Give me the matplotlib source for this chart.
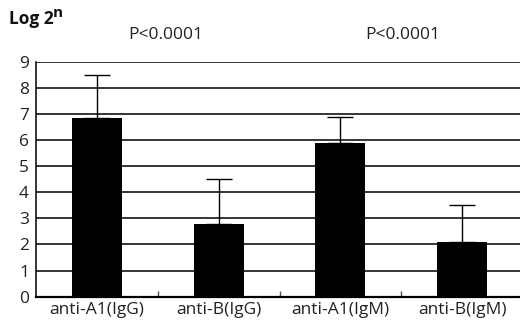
import numpy as np
import matplotlib.pyplot as plt

plt.rcParams['font.family'] = ['Open Sans', 'DejaVu Sans']

categories = ['anti-A1(IgG)', 'anti-B(IgG)', 'anti-A1(IgM)', 'anti-B(IgM)']
means = [6.83, 2.79, 5.88, 2.11]
upper_err = [1.67, 1.73, 1.02, 1.40]
p_labels = ['P<0.0001', 'P<0.0001']
y_ticks = list(range(0, 10))

fig = plt.figure(figsize=(5.2, 3.25), dpi=100)
ax = fig.add_axes([36 / 520, 1 - 296.7 / 325, 487 / 520, 235 / 325])

x = np.arange(len(categories))
zeros = [0] * len(upper_err)
ax.bar(x, means, width=0.41, color='black', zorder=3)
ax.errorbar(x, means, yerr=[zeros, upper_err], fmt='none', ecolor='black',
            elinewidth=1, capsize=9.5, capthick=1, zorder=2)

# horizontal grid lines
for yv in y_ticks[1:]:
    ax.axhline(yv, color='black', lw=1.1, zorder=1)

ax.set_xlim(-0.5, 3.5)
ax.set_ylim(0, 9)
ax.set_yticks(y_ticks)
ax.set_yticklabels([str(v) for v in y_ticks], fontsize=12.5, color='#222222')
ax.tick_params(axis='y', length=0, pad=5)

ax.set_xticks(x)
ax.set_xticklabels(categories, fontsize=12.5, color='#222222')
ax.tick_params(axis='x', length=0, pad=4)
ax.set_xticks([0.5, 1.5, 2.5], minor=True)
ax.tick_params(axis='x', which='minor', direction='in', length=4, width=1, color='#555555')

ax.spines['top'].set_visible(False)
ax.spines['right'].set_visible(False)
ax.spines['left'].set_linewidth(1.1)
ax.spines['bottom'].set_linewidth(1.6)

fig.text(9 / 520, 1 - 19 / 325, 'Log 2', fontsize=12.5, fontweight='bold',
         va='center', ha='left', color='#111111')
fig.text(53 / 520, 1 - 13 / 325, 'n', fontsize=11, fontweight='bold',
         va='center', ha='left', color='#111111')
fig.text(166 / 520, 1 - 35 / 325, p_labels[0], fontsize=12.5, ha='center', va='center', color='#222222')
fig.text(403 / 520, 1 - 35 / 325, p_labels[1], fontsize=12.5, ha='center', va='center', color='#222222')

fig.savefig('out.png', dpi=100)
